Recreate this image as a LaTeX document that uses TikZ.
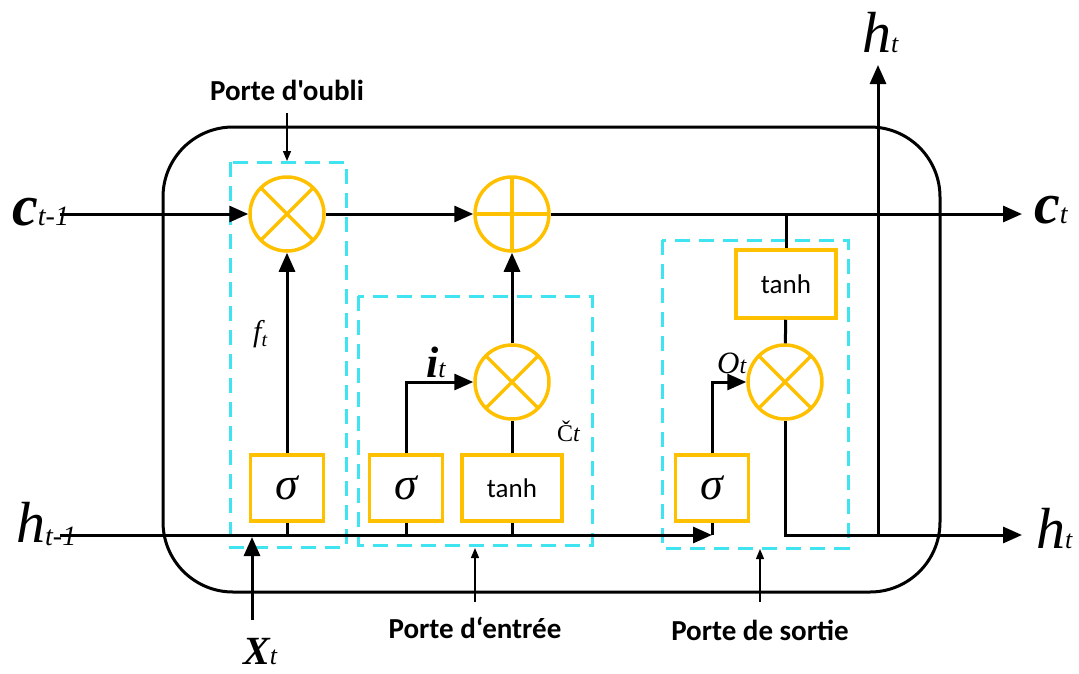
\documentclass[tikz,border=0pt]{standalone}
\usepackage{fontspec}
\setmainfont{Liberation Serif}
\newfontfamily\gatefont{Carlito}
\usetikzlibrary{arrows.meta}

\definecolor{gateorange}{RGB}{255,192,0}
\definecolor{gatecyan}{RGB}{64,228,240}

\newcommand\fs[1]{\fontsize{#1}{#1}\selectfont}

\begin{document}
\begin{tikzpicture}[x=1pt,y=-1pt,
  flow/.style={line width=3pt},
  arr/.style={flow,-{Triangle[length=19pt,width=16pt]}},
  note/.style={line width=1.3pt,-{Triangle[length=10pt,width=8pt]}},
  cell/.style={line width=3pt,rounded corners=70pt},
  gatezone/.style={draw=gatecyan,line width=3pt,dash pattern=on 15pt off 9pt},
  opcircle/.style={circle,draw=gateorange,line width=3.5pt,minimum size=74pt,inner sep=0pt},
  times/.style={opcircle,path picture={
      \draw[gateorange,line width=3.5pt]
        (path picture bounding box.north west) -- (path picture bounding box.south east)
        (path picture bounding box.north east) -- (path picture bounding box.south west);}},
  plus/.style={opcircle,path picture={
      \draw[gateorange,line width=3.5pt]
        (path picture bounding box.north) -- (path picture bounding box.south)
        (path picture bounding box.west) -- (path picture bounding box.east);}},
  actbox/.style={draw=gateorange,line width=3.5pt,minimum width=73pt,minimum height=66pt,inner sep=0pt,
      font=\fs{46}\itshape},
  tanhbox/.style={draw=gateorange,line width=3.5pt,minimum width=100pt,minimum height=66pt,inner sep=0pt,
      font=\gatefont\fs{27}},
  sym/.style={inner sep=0pt,anchor=base west},
  gatename/.style={inner sep=0pt,font=\gatefont\bfseries\fs{29}},
]
\useasboundingbox (0,0) rectangle (1079,673);

% gate zones
\draw[gatezone] (230,162) rectangle (346,547);
\draw[gatezone] (358,296) rectangle (592,545);
\draw[gatezone] (662,240) rectangle (848,548);

% cell outline
\draw[cell] (163,127) rectangle (940,592);

% operators
\node[times] (mf) at (287,214) {};
\node[plus]  (add) at (512,214) {};
\node[times] (mi) at (512,382) {};
\node[times] (mo) at (785,382) {};

% activation boxes
\node[actbox]  (sf) at (287,488) {σ};
\node[actbox]  (si) at (406,488) {σ};
\node[tanhbox] (ti) at (512,488) {tanh};
\node[actbox]  (so) at (712,488) {σ};
\node[tanhbox,minimum height=68pt] (to) at (786,284) {tanh};

% terminals
\coordinate (cin) at (60,214);
\coordinate (cout) at (1022,214);
\coordinate (hin) at (60,535);
\coordinate (hbus) at (712,535);
\coordinate (hout) at (1022,535);
\coordinate (hsplit) at (878,535);
\coordinate (htop) at (878,65);
\coordinate (cbranch) at (786,214);
\coordinate (xin) at (252,620);
\coordinate (xtip) at (252,537);

% cell state
\draw[arr] (cin) -- (mf);
\draw[arr] (mf) -- (add);
\draw[arr] (add) -- (cout);

% hidden input bus
\draw[arr] (hin) -- (hbus);
\draw[flow] (sf.south) -- (sf.south |- hin);
\draw[flow] (si.south) -- (si.south |- hin);
\draw[flow] (ti.south) -- (ti.south |- hin);
\draw[flow] (so.south) -- (hbus);
\draw[arr] (xin) -- (xtip);

% forget gate
\draw[arr] (sf) -- (mf);
% input gate
\draw[arr] (si.north) |- (mi.west);
\draw[flow] (ti) -- (mi);
\draw[arr] (mi) -- (add);
% output gate
\draw[flow] (cbranch) -- (to);
\draw[flow] (to) -- (mo);
\draw[arr] (so.north) |- (mo.west);
\draw[arr] (mo.south) |- (hout);
\draw[arr] (hsplit) -- (htop);

% signal labels
\node[sym] (lcin) at (12,225) {\fs{58}\bfseries\itshape c\fs{28}\mdseries t-1};
\node[sym] (lcout) at (1034,223) {\fs{58}\bfseries\itshape c\fs{28}\mdseries t};
\node[sym] (lhin) at (16,542) {\fs{58}\itshape h\raisebox{-3pt}{\fs{28}t-1}};
\node[sym] (lhout) at (1036,548) {\fs{58}\itshape h\fs{26}t};
\node[sym] (lhtop) at (862,52) {\fs{58}\itshape h\fs{26}t};
\node[sym] (lx) at (243,664) {\fs{40}\bfseries\itshape X\fs{26}\mdseries t};
\node[sym] (lf) at (253,341) {\fs{30}\itshape f\raisebox{-5pt}{\fs{20}t}};
\node[sym] (li) at (426,377) {\fs{44}\bfseries\itshape i\fs{26}\mdseries t};
\node[sym] (lo) at (717,373) {\fs{31}\itshape O\fs{24}t};
\node[sym] (lc) at (557,441) {\fs{24}Č\itshape t};

% gate names
\node[gatename] (nf) at (287,90) {Porte d'oubli};
\node[gatename] (ni) at (475,628) {Porte d‘entrée};
\node[gatename] (no) at (760,630) {Porte de sortie};
\coordinate (af) at (287,161);
\coordinate (ai) at (475,548);
\coordinate (ao) at (760,549);
\draw[note] (nf.south |- 0,113) -- (af);
\draw[note] (ai |- 0,602) -- (ai);
\draw[note] (ao |- 0,602) -- (ao);
\end{tikzpicture}
\end{document}
